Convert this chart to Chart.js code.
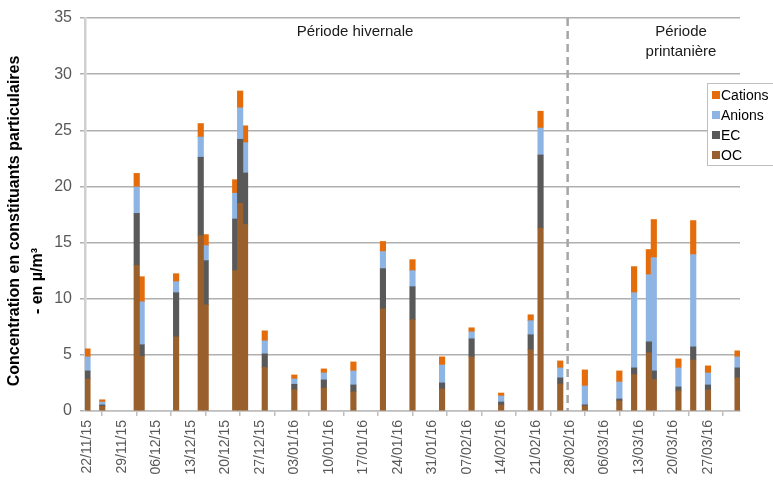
<!DOCTYPE html>
<html>
<head>
<meta charset="utf-8">
<script src="https://cdn.jsdelivr.net/npm/chart.js@4.4.1/dist/chart.umd.min.js"></script>
<style>
  html, body { margin: 0; padding: 0; background: #fff; }
  #wrap { width: 773px; height: 490px; }
</style>
</head>
<body>
<div id="wrap"><canvas id="chartConstituants"></canvas></div>
<script>
// dates de prélèvement
const dates = ['22/11/15', '25/11/15', '02/12/15', '03/12/15', '10/12/15', '15/12/15', '16/12/15',
    '22/12/15', '23/12/15', '24/12/15', '28/12/15', '03/01/16', '09/01/16', '15/01/16',
    '21/01/16', '27/01/16', '02/02/16', '08/02/16', '14/02/16', '20/02/16', '22/02/16',
    '26/02/16', '02/03/16', '09/03/16', '12/03/16', '15/03/16', '16/03/16', '21/03/16',
    '24/03/16', '27/03/16', '02/04/16'];

const oc = [2.86, 0.42, 12.98, 4.85, 6.6, 15.62, 9.46, 12.5, 18.5, 16.6, 3.87, 1.9, 2.05, 1.7,
    9.1, 8.13, 1.96, 4.82, 0.54, 5.45, 16.3, 2.41, 0.45, 0.9, 3.24, 5.18, 2.8, 1.79, 4.55, 1.88, 2.95];
const ec = [0.71, 0.12, 4.62, 1.05, 3.94, 6.98, 3.93, 4.6, 5.7, 4.6, 1.22, 0.48, 0.72, 0.62,
    3.58, 2.94, 0.54, 1.61, 0.26, 1.34, 6.5, 0.54, 0.1, 0.17, 0.6, 0.98, 0.77, 0.35, 1.16, 0.44, 0.89];
const anions = [1.25, 0.26, 2.35, 3.83, 0.98, 1.8, 1.34, 2.3, 2.8, 2.7, 1.16, 0.48, 0.62, 1.25,
    1.52, 1.43, 1.6, 0.62, 0.54, 1.25, 2.4, 0.89, 1.68, 1.52, 6.7, 5.98, 10.09, 1.7, 8.22, 1.07, 0.98];
const cations = [0.72, 0.2, 1.21, 2.23, 0.71, 1.2, 0.98, 1.2, 1.5, 1.5, 0.89, 0.35, 0.36, 0.8,
    0.9, 0.98, 0.72, 0.36, 0.26, 0.53, 1.5, 0.62, 1.43, 0.98, 2.32, 2.24, 3.39, 0.8, 3.03, 0.63, 0.54];

const tickLabels = ['22/11/15', '29/11/15', '06/12/15', '13/12/15', '20/12/15', '27/12/15',
    '03/01/16', '10/01/16', '17/01/16', '24/01/16', '31/01/16', '07/02/16', '14/02/16',
    '21/02/16', '28/02/16', '06/03/16', '13/03/16', '20/03/16', '27/03/16'];

const debut = '22/11/15';
const fin = '03/04/16';
const separation = '28/02/16';

const couleurs = {
    OC: '#99602d',
    EC: '#595959',
    Anions: '#8eb4e3',
    Cations: '#e46c0a'
};

const police = '"Liberation Sans", Arial, sans-serif';

// jour (depuis le debut) d'une date jj/mm/aa
const jour = (s) => {
    const [d, m, y] = s.split('/').map(Number);
    const [d0, m0, y0] = debut.split('/').map(Number);
    return Math.round((Date.UTC(2000 + y, m - 1, d) - Date.UTC(2000 + y0, m0 - 1, d0)) / 86400000);
};

const serie = (valeurs) => valeurs.map((v, i) => ({ x: jour(dates[i]) + 0.5, y: v }));

const jourFin = jour(fin);

const periodesPlugin = {
    id: 'periodes',
    afterDraw(chart) {
        const { ctx, chartArea, scales } = chart;
        const xs = scales.x.getPixelForValue(jour(separation));
        ctx.save();
        // ligne de separation
        ctx.strokeStyle = '#a6a6a6';
        ctx.lineWidth = 2.5;
        ctx.setLineDash([8, 5]);
        ctx.beginPath();
        ctx.moveTo(xs, chartArea.top);
        ctx.lineTo(xs, chartArea.bottom);
        ctx.stroke();
        ctx.setLineDash([]);

        ctx.fillStyle = '#1a1a1a';
        ctx.font = `15px ${police}`;
        ctx.textAlign = 'center';
        ctx.textBaseline = 'middle';
        ctx.fillText('Période hivernale', 355, 32);
        ctx.fillText('Période', 681, 32);
        ctx.fillText('printanière', 681, 52);

        // titre de l'axe y
        ctx.fillStyle = '#000';
        ctx.font = `bold 16px ${police}`;
        ctx.save();
        ctx.translate(15, 221);
        ctx.rotate(-Math.PI / 2);
        ctx.fillText('Concentration en constituants particulaires', 0, 0);
        ctx.restore();
        ctx.save();
        ctx.translate(38, 281);
        ctx.rotate(-Math.PI / 2);
        ctx.fillText('- en µ/m³', 0, 0);
        ctx.restore();

        // legende
        ctx.fillStyle = '#fff';
        ctx.fillRect(707, 83, 70, 82);
        ctx.strokeStyle = '#bfbfbf';
        ctx.lineWidth = 1;
        ctx.strokeRect(707.5, 83.5, 70, 82);
        const items = chart.data.datasets.slice().reverse();
        ctx.textAlign = 'left';
        ctx.font = `14px ${police}`;
        items.forEach((ds, i) => {
            const y = 95 + i * 20;
            ctx.fillStyle = ds.backgroundColor;
            ctx.fillRect(712, y - 4, 8, 8);
            ctx.fillStyle = '#000';
            ctx.fillText(ds.label, 721, y + 1);
        });
        ctx.restore();
    }
};

const chartCanvas = document.getElementById('chartConstituants').getContext('2d');

const chartConstituants = new Chart(chartCanvas, {
    type: 'bar',
    data: {
        datasets: [
            { label: 'OC', data: serie(oc), backgroundColor: couleurs.OC },
            { label: 'EC', data: serie(ec), backgroundColor: couleurs.EC },
            { label: 'Anions', data: serie(anions), backgroundColor: couleurs.Anions },
            { label: 'Cations', data: serie(cations), backgroundColor: couleurs.Cations }
        ]
    },
    options: {
        responsive: true,
        maintainAspectRatio: false,
        animation: false,
        barThickness: 5.5,
        layout: {
            padding: { top: 18, right: 33, left: 0, bottom: 0 }
        },
        plugins: {
            legend: { display: false },
            tooltip: { enabled: false }
        },
        scales: {
            x: {
                type: 'linear',
                stacked: true,
                offset: false,
                min: 0,
                max: jourFin,
                afterBuildTicks: (scale) => {
                    const t = [];
                    for (let v = 0; v <= jourFin; v += 7) t.push({ value: v });
                    scale.ticks = t;
                },
                afterFit: (scale) => { scale.height = 79; },
                ticks: {
                    autoSkip: false,
                    minRotation: 90,
                    maxRotation: 90,
                    labelOffset: 2.5,
                    padding: 4,
                    color: '#595959',
                    font: { size: 14, family: police },
                    callback: (value, index) => tickLabels[index] || ''
                },
                grid: {
                    drawOnChartArea: false,
                    drawTicks: true,
                    tickLength: 5,
                    color: '#bfbfbf',
                    lineWidth: 1.5
                },
                border: { color: '#bfbfbf', width: 1.5 }
            },
            y: {
                stacked: true,
                min: 0,
                max: 35,
                afterFit: (scale) => { scale.width = 85; },
                ticks: {
                    stepSize: 5,
                    padding: 8,
                    color: '#595959',
                    font: { size: 16, family: police }
                },
                grid: {
                    color: '#b0b0b0',
                    lineWidth: 1.5,
                    tickLength: 5
                },
                border: { color: '#d0d0d0', width: 2.5 }
            }
        }
    },
    plugins: [periodesPlugin]
});
</script>
</body>
</html>
